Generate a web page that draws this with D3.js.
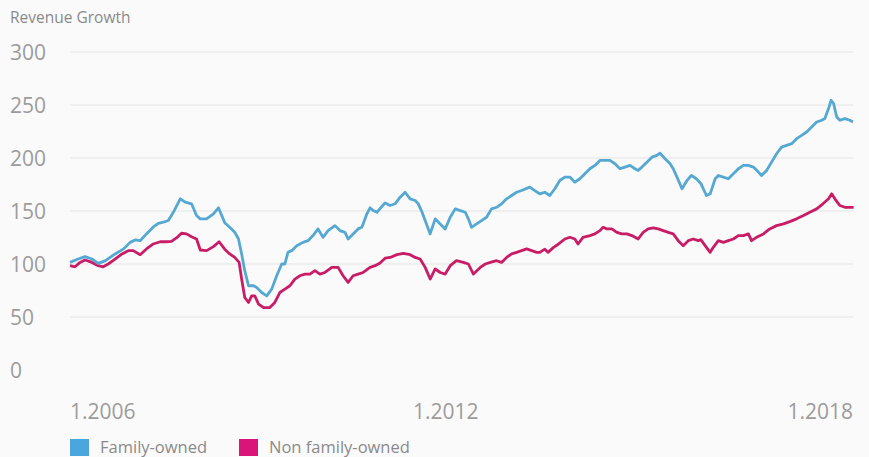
<!DOCTYPE html>
<html>
<head>
<meta charset="utf-8">
<script src="https://cdn.jsdelivr.net/npm/d3@7"></script>
<style>
  body { margin: 0; background: #fafafa; }
  svg { display: block; font-family: "Open Sans", sans-serif; }
</style>
</head>
<body>
<div id="chart"></div>
<script>
var W = 869, H = 457;
var margin = {top: 52, left: 70, right: 16, bottom: 87};

// decimal years
var familyYears = [2006.00, 2006.13, 2006.24, 2006.35, 2006.45, 2006.56, 2006.72, 2006.85, 2006.96, 2007.04,
  2007.12, 2007.22, 2007.33, 2007.41, 2007.49, 2007.57, 2007.65, 2007.76, 2007.84, 2007.94,
  2008.02, 2008.08, 2008.18, 2008.29, 2008.37, 2008.47, 2008.55, 2008.63, 2008.69, 2008.74,
  2008.79, 2008.85, 2008.93, 2008.98, 2009.06, 2009.14, 2009.22, 2009.30, 2009.38, 2009.43,
  2009.48, 2009.54, 2009.62, 2009.72, 2009.80, 2009.88, 2009.96, 2010.04, 2010.12, 2010.23,
  2010.31, 2010.39, 2010.44, 2010.52, 2010.60, 2010.66, 2010.74, 2010.79, 2010.84, 2010.90,
  2010.96, 2011.03, 2011.11, 2011.19, 2011.27, 2011.35, 2011.43, 2011.51, 2011.56, 2011.61,
  2011.67, 2011.75, 2011.83, 2011.91, 2011.99, 2012.07, 2012.15, 2012.23, 2012.31, 2012.36,
  2012.41, 2012.49, 2012.57, 2012.65, 2012.73, 2012.81, 2012.89, 2012.97, 2013.05, 2013.13,
  2013.21, 2013.34, 2013.42, 2013.50, 2013.58, 2013.66, 2013.74, 2013.82, 2013.90, 2013.98,
  2014.06, 2014.14, 2014.22, 2014.30, 2014.38, 2014.46, 2014.54, 2014.62, 2014.70, 2014.78,
  2014.86, 2014.94, 2015.02, 2015.07, 2015.13, 2015.21, 2015.29, 2015.37, 2015.42, 2015.50,
  2015.58, 2015.63, 2015.69, 2015.77, 2015.85, 2015.92, 2016.00, 2016.07, 2016.16, 2016.22,
  2016.30, 2016.35, 2016.43, 2016.51, 2016.59, 2016.67, 2016.75, 2016.83, 2016.91, 2016.99,
  2017.04, 2017.12, 2017.20, 2017.28, 2017.36, 2017.44, 2017.52, 2017.60, 2017.68, 2017.76,
  2017.84, 2017.92, 2018.00, 2018.05, 2018.11, 2018.15, 2018.19, 2018.24, 2018.29, 2018.37,
  2018.45, 2018.50];
var familyValues = [101.5, 104.7, 106.9, 104.7, 100.6, 103, 109.5, 114, 120.4, 122.7,
  122, 128.4, 135, 138.4, 139.4, 141, 148.8, 161.5, 158.3, 156.8,
  145.7, 142.6, 142.6, 147.3, 153, 139, 134.6, 129.9, 123.6, 109.5,
  93.7, 79.5, 79.5, 77.9, 73.1, 70, 76.3, 88.9, 100, 100,
  111, 112.6, 117.3, 120.4, 122, 126.8, 133.1, 125.2, 131.5, 136.2,
  131.5, 129.9, 123.6, 128.4, 133.1, 134.6, 147.3, 153, 150.4, 148.8,
  153, 157.5, 155.2, 156.8, 163, 167.7, 161.5, 159.9, 156.8, 150.4,
  141, 128.4, 142.6, 137.8, 133.1, 144.1, 152, 150.4, 148.8, 142.6,
  134.6, 137.8, 141, 144.1, 152, 153.5, 156.8, 161.5, 164.6, 167.7,
  169.3, 172.5, 169.3, 166.2, 167.7, 164.6, 171, 178.8, 182, 182,
  177.2, 180.4, 185.1, 189.9, 193, 197.7, 197.7, 197.7, 194.6, 189.9,
  191.4, 193, 189.9, 188.3, 191.4, 196.1, 200.8, 202.5, 204.6, 199.3,
  194.6, 189.9, 182, 171, 178.8, 183.6, 180.4, 176, 164.6, 166.2,
  180.4, 183.5, 182, 180.4, 185.1, 189.9, 193, 193, 191.4, 186.7,
  183.5, 188.3, 196.1, 204, 210.3, 211.9, 213.5, 218.2, 221.4, 224.5,
  229.2, 234, 235.6, 237.2, 246.6, 254.5, 251.4, 238.7, 235.6, 237.2,
  235.6, 234];

var nonFamilyYears = [2006.00, 2006.08, 2006.16, 2006.24, 2006.35, 2006.45, 2006.53, 2006.61, 2006.72, 2006.83,
  2006.93, 2007.01, 2007.12, 2007.22, 2007.33, 2007.44, 2007.54, 2007.62, 2007.70, 2007.78,
  2007.86, 2007.94, 2008.02, 2008.08, 2008.18, 2008.29, 2008.38, 2008.47, 2008.55, 2008.63,
  2008.70, 2008.74, 2008.79, 2008.85, 2008.90, 2008.95, 2009.01, 2009.09, 2009.19, 2009.27,
  2009.35, 2009.43, 2009.51, 2009.59, 2009.67, 2009.75, 2009.83, 2009.91, 2009.99, 2010.07,
  2010.18, 2010.28, 2010.36, 2010.44, 2010.52, 2010.60, 2010.68, 2010.79, 2010.87, 2010.95,
  2011.03, 2011.11, 2011.22, 2011.32, 2011.43, 2011.51, 2011.59, 2011.67, 2011.75, 2011.83,
  2011.91, 2011.99, 2012.07, 2012.17, 2012.28, 2012.36, 2012.44, 2012.55, 2012.63, 2012.71,
  2012.81, 2012.89, 2012.97, 2013.05, 2013.13, 2013.21, 2013.29, 2013.37, 2013.45, 2013.50,
  2013.58, 2013.63, 2013.72, 2013.80, 2013.90, 2013.98, 2014.06, 2014.11, 2014.19, 2014.30,
  2014.38, 2014.46, 2014.51, 2014.57, 2014.65, 2014.73, 2014.81, 2014.89, 2014.97, 2015.07,
  2015.15, 2015.23, 2015.31, 2015.39, 2015.47, 2015.55, 2015.63, 2015.71, 2015.79, 2015.87,
  2015.95, 2016.03, 2016.07, 2016.16, 2016.22, 2016.27, 2016.35, 2016.43, 2016.51, 2016.59,
  2016.67, 2016.75, 2016.83, 2016.88, 2016.96, 2017.07, 2017.17, 2017.28, 2017.39, 2017.49,
  2017.60, 2017.71, 2017.81, 2017.92, 2018.02, 2018.11, 2018.16, 2018.21, 2018.29, 2018.37,
  2018.45, 2018.51];
var nonFamilyValues = [98.4, 97.4, 101.5, 103.8, 101.5, 98.4, 97.4, 100, 104.7, 109.5,
  112.6, 112.6, 108.8, 114.2, 118.9, 121, 121, 121.4, 124.6, 129,
  128.4, 125.8, 123.6, 113.2, 112.6, 116.4, 121, 114, 109.5, 106.2,
  101.5, 85.8, 68.4, 63.7, 70, 70, 62.2, 58.9, 58.9, 63.7,
  73.1, 76.3, 79.5, 85.8, 88.9, 90.5, 90.5, 93.7, 90.5, 92,
  96.8, 96.8, 88.9, 82.6, 88.9, 90.5, 92, 96.8, 98.4, 101,
  105.5, 106.2, 108.8, 110, 108.8, 106.2, 104.7, 96.8, 85.8, 95.3,
  92, 90.5, 98.4, 103.1, 101.5, 100, 90.5, 96.8, 100, 101.5,
  103.1, 101.5, 106.2, 109.5, 111, 112.6, 114.2, 112.6, 111, 111,
  114, 111, 115.7, 118.9, 123.6, 125.2, 123.6, 118.9, 125.2, 126.8,
  128.4, 131.5, 134.6, 133.1, 133.1, 129.9, 128.4, 128.4, 126.8, 123.6,
  129.9, 133.1, 134.1, 133.1, 131.5, 129.9, 128.4, 122, 117.3, 122,
  123.6, 122, 123, 115.7, 111, 115.7, 122, 120.4, 122, 123.6,
  126.8, 126.8, 128.4, 122, 125.2, 128.4, 133.1, 136.2, 137.8, 140,
  142.6, 145.7, 148.8, 152, 156.8, 161.5, 166.2, 161.5, 155.2, 153.5,
  153.5, 153.5];

var yTicks = [0, 50, 100, 150, 200, 250, 300];
var xTicks = [2006, 2012, 2018];
var seriesNames = ["Family-owned", "Non family-owned"];
var lineColors = ["#55a8d2", "#c81d66"];
var legendColors = ["#4aa6dc", "#d9157a"];

var width = W - margin.left - margin.right,
    height = H - margin.top - margin.bottom;

var x = d3.scaleLinear().domain([2006, 2018.5]).range([0, width]);
var y = d3.scaleLinear().domain([0, 300]).range([height, 0]);

var svg = d3.select("#chart").append("svg")
    .attr("width", W).attr("height", H);

svg.append("rect").attr("width", W).attr("height", H).attr("fill", "#fafafa");

svg.append("text")
    .attr("x", 10).attr("y", 23)
    .attr("fill", "#8a8a8a")
    .style("font-size", "15.5px")
    .text("Revenue Growth");

var g = svg.append("g").attr("transform", "translate(" + margin.left + "," + margin.top + ")");

// grid + y labels
g.selectAll(".grid").data(yTicks).enter().append("line")
    .attr("x1", 0).attr("x2", width)
    .attr("y1", function(d) { return y(d); }).attr("y2", function(d) { return y(d); })
    .attr("stroke", function(d) { return d === 0 ? "none" : "#e4e4e4"; })
    .attr("stroke-width", 1);

g.selectAll(".ylab").data(yTicks).enter().append("text")
    .attr("x", -margin.left + 10)
    .attr("y", function(d) { return y(d); })
    .attr("dy", "0.38em")
    .attr("fill", "#9c9c9c")
    .style("font-size", "21px")
    .text(function(d) { return d; });

// x labels, first left aligned and last right aligned
g.selectAll(".xlab").data(xTicks).enter().append("text")
    .attr("x", function(d, i) { return i === 0 ? 0 : (i === xTicks.length - 1 ? width : x(d)); })
    .attr("y", height + 49)
    .attr("text-anchor", function(d, i) { return i === 0 ? "start" : (i === xTicks.length - 1 ? "end" : "middle"); })
    .attr("fill", "#9c9c9c")
    .style("font-size", "21px")
    .text(function(d) { return "1." + d; });

var line = d3.line()
    .x(function(d) { return x(d[0]); })
    .y(function(d) { return y(d[1]); });

var familyData = d3.zip(familyYears, familyValues),
    nonFamilyData = d3.zip(nonFamilyYears, nonFamilyValues);

g.append("path").datum(nonFamilyData)
    .attr("d", line).attr("fill", "none")
    .attr("stroke", lineColors[1]).attr("stroke-width", 2.8)
    .attr("stroke-linejoin", "round");

g.append("path").datum(familyData)
    .attr("d", line).attr("fill", "none")
    .attr("stroke", lineColors[0]).attr("stroke-width", 2.8)
    .attr("stroke-linejoin", "round");

// legend
var legX = [70, 239];
var leg = svg.selectAll(".leg").data(seriesNames).enter().append("g")
    .attr("transform", function(d, i) { return "translate(" + legX[i] + ",439)"; });
leg.append("rect").attr("width", 19).attr("height", 17)
    .attr("fill", function(d, i) { return legendColors[i]; });
leg.append("text").attr("x", 30).attr("y", 14)
    .attr("fill", "#8a8a8a")
    .style("font-size", "16.5px")
    .text(function(d) { return d; });
</script>
</body>
</html>
